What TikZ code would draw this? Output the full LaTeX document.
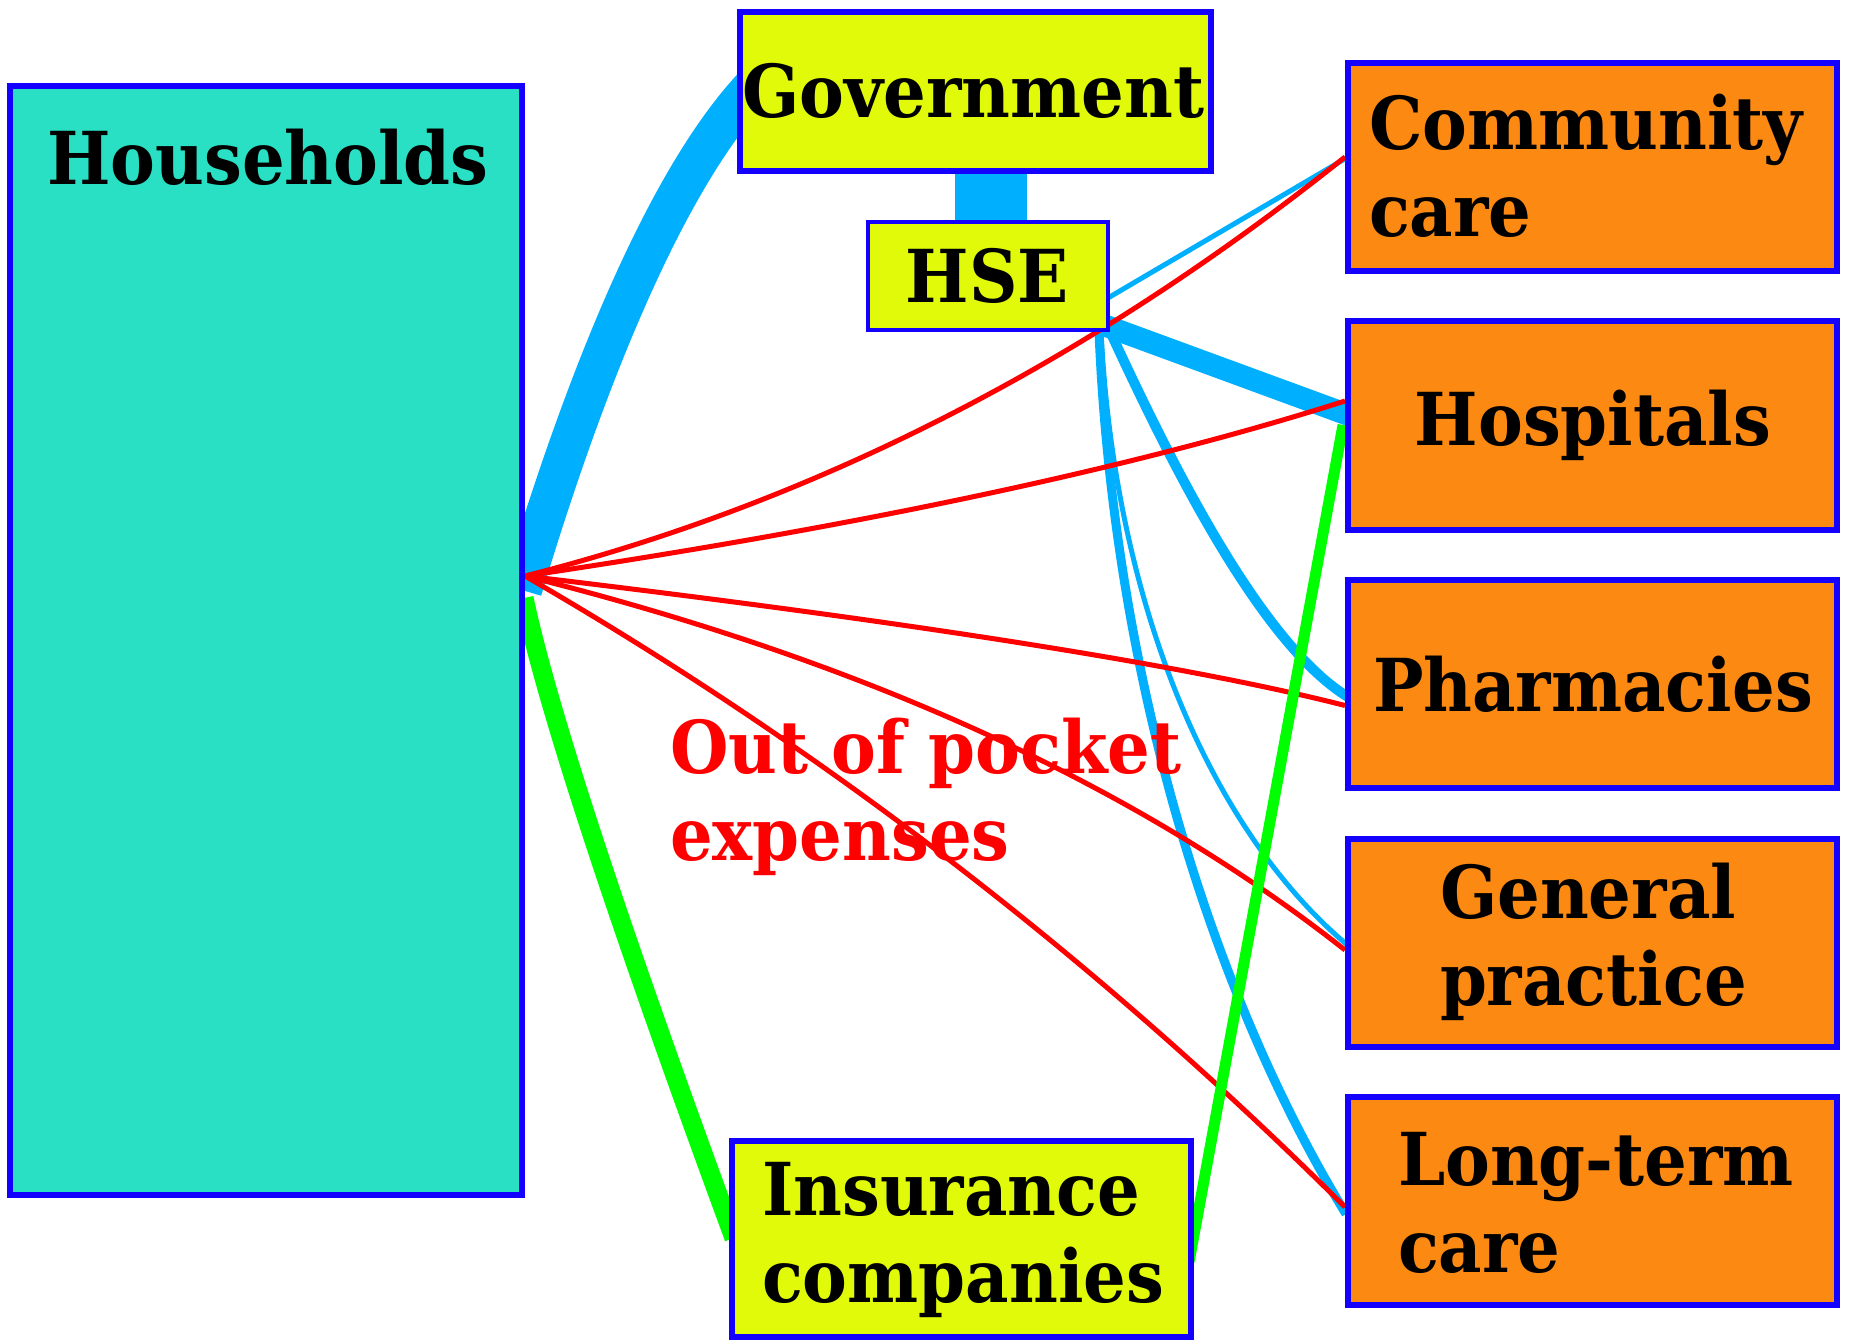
\documentclass[tikz,border=0pt]{standalone}
\usepackage{fontspec}
\setmainfont{DejaVu Serif}[FakeStretch=0.92]
\usetikzlibrary{calc}
\definecolor{bordblue}{RGB}{20,0,255}
\definecolor{tealfill}{RGB}{42,224,196}
\definecolor{yelfill}{RGB}{224,250,10}
\definecolor{orfill}{RGB}{252,138,18}
\definecolor{flowblue}{RGB}{0,176,255}
\definecolor{flowred}{RGB}{255,0,0}
\definecolor{flowgreen}{RGB}{0,255,0}
\pgfdeclarelayer{flows}
\pgfsetlayers{flows,main}
\begin{document}
\begin{tikzpicture}[x=1pt,y=-1pt,
  boxbase/.style={draw=bordblue,line width=6pt,inner sep=0pt,outer sep=0pt,rectangle},
  hhbox/.style={boxbase,fill=tealfill},
  finbox/.style={boxbase,fill=yelfill},
  provbox/.style={boxbase,fill=orfill,minimum width=489pt,minimum height=208pt},
  lbl/.style={inner sep=0pt,outer sep=0pt,font=\fontsize{73}{87}\selectfont\bfseries,align=left},
  bflow/.style={draw=flowblue,line cap=butt},
  rflow/.style={draw=flowred,line width=5pt},
  gflow/.style={draw=flowgreen},
]
\useasboundingbox (0,0) rectangle (1850,1340);
% boxes
\node[hhbox,minimum width=512pt,minimum height=1109pt] (hh) at (266,640.5) {};
\node[finbox,minimum width=471pt,minimum height=159pt] (gov) at (975.5,92) {};
\node[finbox,line width=4pt,minimum width=239.5pt,minimum height=108pt] (hse) at (987.75,276) {};
\node[finbox,minimum width=459pt,minimum height=196pt] (ins) at (961.5,1239) {};
\node[provbox] (comm) at (1592.5,167) {};
\node[provbox] (hosp) at (1592.5,425.5) {};
\node[provbox] (pharm) at (1592.5,684) {};
\node[provbox] (gp) at (1592.5,942.5) {};
\node[provbox] (ltc) at (1592.5,1201) {};
% labels (multi-line labels are anchored at the baseline of their last line)
\node[lbl,anchor=base] (thh) at (268,185) {Households};
\node[lbl,anchor=base] (tgov) at (973.5,118) {Government};
\node[lbl,anchor=base] (thse) at (987.5,302) {HSE};
\node[lbl,anchor=base west] (tcomm) at (1369,237) {Community\\care};
\node[lbl,anchor=base] (thosp) at (1593,445) {Hospitals};
\node[lbl,anchor=base] (tpharm) at (1593,711) {Pharmacies};
\node[lbl,anchor=base west] (tgp) at (1440,1005) {General\\practice};
\node[lbl,anchor=base west] (tltc) at (1398,1272) {Long-term\\care};
\node[lbl,anchor=base west] (tins) at (762,1302) {Insurance\\companies};
\node[lbl,anchor=base west,text=flowred] (toop) at (670,860) {Out of pocket\\expenses};
% connectors
\coordinate (fan) at ($(hh.north east)+(3,490)$);
\begin{pgfonlayer}{flows}
% blue flows
\draw[bflow,line width=40pt] ($(hh.north east)+(0,504)$) .. controls (570,430) and (660,170) .. ($(gov.north west)+(30,57.5)$);
\draw[bflow,line width=72pt] ($(gov.south)+(15.5,0)$) -- ($(hse.north)+(3.25,0)$);
\draw[bflow,line width=22pt] ($(hse.south east)+(-4,-5)$) -- ($(hosp.north west)+(2,94)$);
\draw[bflow,line width=5pt] ($(hse.south east)+(-3,-30)$) -- ($(comm.north west)+(0,94)$);
\draw[bflow,line width=10pt] ($(hse.south east)+(-5,-15)$) .. controls (1160,440) and (1255,640) .. ($(pharm.north west)+(0,117)$);
\draw[bflow,line width=5pt] ($(hse.south east)+(-7,-10)$) .. controls (1112,600) and (1210,830) .. ($(gp.north west)+(0,107)$);
\draw[bflow,line width=9pt] ($(hse.south east)+(-9,-10)$) .. controls (1112,680) and (1215,1000) .. ($(ltc.north west)+(-2,117)$);
% red flows
\draw[rflow] (fan) .. controls (813,503) and (1086,364) .. ($(comm.north west)+(-3,94)$);
\draw[rflow] (fan) .. controls (868,525) and (1141,466) .. ($(hosp.north west)+(-3,79.5)$);
\draw[rflow] (fan) .. controls (921,623) and (1194,667) .. ($(pharm.north west)+(-3,125.5)$);
\draw[rflow] (fan) .. controls (865,661) and (1137,786) .. ($(gp.north west)+(-3,111.5)$);
\draw[rflow] (fan) .. controls (824,749) and (1096,959) .. ($(ltc.north west)+(-3,110)$);
% green flows
\draw[gflow,line width=19pt] ($(hh.north east)+(2,512)$) .. controls (553,735) and (650,1010) .. ($(ins.north west)+(2,97)$);
\draw[gflow,line width=11pt] ($(ins.north east)+(-2,121)$) -- ($(hosp.north west)+(-5,103.5)$);
\end{pgfonlayer}
\end{tikzpicture}
\end{document}
